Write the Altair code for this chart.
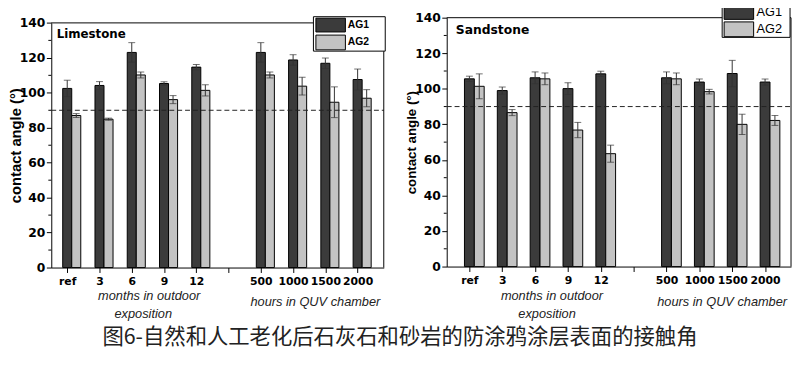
import altair as alt
import pandas as pd

# ---- data ----
categories = ["ref", "3", "6", "9", "12", "", "500", "1000", "1500", "2000"]
bar_labels = ["ref", "3", "6", "9", "12", "500", "1000", "1500", "2000"]
series = ["AG1", "AG2"]

lime_ag1 = [102.5, 104.2, 123.1, 105.3, 114.7, 123.1, 118.8, 116.9, 107.6]
lime_ag1_err = [4.7, 2.2, 5.6, 1.0, 1.5, 5.6, 3.0, 3.0, 6.0]
lime_ag2 = [87.0, 84.9, 110.2, 96.1, 101.4, 110.2, 103.8, 94.6, 96.9]
lime_ag2_err = [1.1, 0.6, 1.7, 2.3, 3.2, 1.7, 5.1, 8.8, 4.9]

sand_ag1 = [105.6, 99.0, 106.2, 100.1, 108.4, 106.2, 103.8, 108.6, 103.8]
sand_ag1_err = [1.5, 2.0, 3.3, 3.3, 1.5, 3.3, 1.7, 7.4, 1.7]
sand_ag2 = [101.4, 86.6, 105.6, 76.8, 63.5, 105.6, 98.4, 80.0, 82.2]
sand_ag2_err = [7.0, 1.7, 3.3, 4.3, 4.8, 3.3, 1.3, 5.7, 2.8]

y_ticks = [0, 20, 40, 60, 80, 100, 120, 140]
y_minor = [10, 30, 50, 70, 90, 110, 130]
threshold = 90
caption = "图6-自然和人工老化后石灰石和砂岩的防涂鸦涂层表面的接触角"

COLORS = ["#3b3b3b", "#c3c3c3"]
LBL_FONT = "DejaVu Sans"


def one():
    return pd.DataFrame({"a": [0]})


def panel(title, ag1, e1, ag2, e2, W, H, xdom, bw, yrange, ytitle_size,
          legend, leg_bold, leg_size, title_size, notes, extra_top):
    rows = []
    for k, lab in enumerate(bar_labels):
        i = categories.index(lab)
        for s, vals, errs, off in (("AG1", ag1, e1, 0.0), ("AG2", ag2, e2, bw)):
            rows.append({
                "series": s,
                "x0": i + off - bw / 2,
                "x1": i + off + bw / 2,
                "xc": i + off,
                "v": vals[k],
                "lo": vals[k] - errs[k],
                "hi": vals[k] + errs[k],
                "base": 0,
            })
    df = pd.DataFrame(rows)

    xs = alt.Scale(domain=xdom, nice=False, zero=False)
    if yrange is None:
        ys = alt.Scale(domain=[0, 140], nice=False, zero=True)
    else:
        ys = alt.Scale(domain=[0, 140], nice=False, zero=True, range=yrange)

    label_arr = "[" + ",".join("'%s'" % c for c in categories) + "]"
    xaxis = alt.Axis(values=list(range(len(categories))),
                     labelExpr=label_arr + "[datum.value]", title=None,
                     labelOverlap=False, labelFlush=False, grid=False,
                     tickSize=5, tickColor="black", domainColor="black",
                     labelFont=LBL_FONT, labelFontWeight="bold", labelColor="black",
                     labelFontSize=11, labelPadding=3)
    yaxis = alt.Axis(values=y_ticks, title="contact angle (°)", labelOverlap=False,
                     grid=False, tickSize=5, tickColor="black", domainColor="black",
                     labelFont=LBL_FONT, labelFontWeight="bold", labelColor="black",
                     labelFontSize=12.5, labelPadding=1.5,
                     titleFont="Liberation Sans", titleFontWeight="bold",
                     titleColor="black", titleFontSize=ytitle_size, titlePadding=-4)

    def X(f):
        return alt.X(f, type="quantitative", scale=xs, axis=xaxis)

    def Y(f):
        return alt.Y(f, type="quantitative", scale=ys, axis=yaxis)

    color = alt.Color("series:N", scale=alt.Scale(domain=series, range=COLORS), legend=None)

    bars = alt.Chart(df).mark_rect(stroke="black", strokeWidth=1).encode(
        x=X("x0"), x2="x1:Q", y=Y("v"), y2="base:Q", color=color)
    err = alt.Chart(df).mark_rule(color="#333", strokeWidth=1).encode(
        x=X("xc"), y=Y("lo"), y2="hi:Q")
    cap_hi = alt.Chart(df).mark_tick(color="#333", thickness=1, size=7, orient="horizontal").encode(
        x=X("xc"), y=Y("hi"))
    cap_lo = alt.Chart(df).mark_tick(color="#333", thickness=1, size=7, orient="horizontal").encode(
        x=X("xc"), y=Y("lo"))

    minor = alt.Chart(pd.DataFrame({"m": y_minor})).mark_rule(color="black").encode(
        y=Y("m"), x=alt.value(-3), x2=alt.value(0))

    lines = alt.Chart(pd.DataFrame({"t": [threshold], "top": [140], "zero": [0]}))
    dash = lines.mark_rule(color="#222", strokeDash=[5, 3], strokeWidth=1).encode(
        y=Y("t"), x=alt.value(0), x2=alt.value(W))
    top = lines.mark_rule(color="black", strokeWidth=1).encode(
        y=Y("top"), x=alt.value(0), x2=alt.value(W))
    right = lines.mark_rule(color="black", strokeWidth=1).encode(
        x=alt.value(W), y=Y("zero"), y2="top:Q")
    spacer = alt.Chart(one()).mark_rule(strokeOpacity=0).encode(
        x=alt.value(0), x2=alt.value(1), y=alt.value(extra_top))

    bx0, bx1, by0, by1, sx0, sx1, s1y, s2y, tx = legend
    box = alt.Chart(one()).mark_rect(fill="white", stroke="black", strokeWidth=1).encode(
        x=alt.value(bx0), x2=alt.value(bx1), y=alt.value(by0), y2=alt.value(by1))
    leg = [box]
    for s, c, (ya, yb) in zip(series, COLORS, (s1y, s2y)):
        leg.append(alt.Chart(one()).mark_rect(fill=c, stroke="black", strokeWidth=1).encode(
            x=alt.value(sx0), x2=alt.value(sx1), y=alt.value(ya), y2=alt.value(yb)))
        leg.append(alt.Chart(one()).mark_text(
            text=s, align="left", baseline="middle", font="Liberation Sans",
            fontWeight="bold" if leg_bold else "normal", fontSize=leg_size, color="black").encode(
            x=alt.value(tx), y=alt.value((ya + yb) / 2)))

    ttl = alt.Chart(one()).mark_text(
        text=title[0], align="left", baseline="middle", font=LBL_FONT, fontWeight="bold",
        fontSize=title_size, color="black").encode(x=alt.value(title[1]), y=alt.value(title[2]))

    note_layers = []
    for txt, nx, ny in notes:
        note_layers.append(alt.Chart(one()).mark_text(
            text=txt, align="center", baseline="middle", font="Liberation Sans",
            fontStyle="italic", fontSize=13, color="#222").encode(
            x=alt.value(nx), y=alt.value(ny)))

    return alt.layer(bars, spacer, dash, err, cap_hi, cap_lo, minor, top, right,
                     *leg, ttl, *note_layers).properties(width=W, height=H)


left = panel(("Limestone", 5.5, 17), lime_ag1, lime_ag1_err, lime_ag2, lime_ag2_err,
             W=338, H=254, xdom=[-0.494, 9.81], bw=0.28, yrange=[254, 5.3], ytitle_size=15,
             legend=(266.5, 339.5, -1, 34, 269, 299, (0.5, 14.5), (17.7, 32.7), 301.5),
             leg_bold=True, leg_size=10.5, title_size=12,
             notes=[("months in outdoor", 99.5, 283), ("exposition", 93.5, 301.5),
                    ("hours in QUV chamber", 268.5, 289)],
             extra_top=-14)

right = panel(("Sandstone", 9.3, 13), sand_ag1, sand_ag1_err, sand_ag2, sand_ag2_err,
              W=350, H=253, xdom=[-0.69, 9.79], bw=0.30, yrange=None, ytitle_size=13.5,
              legend=(280, 349, -14, 20, 282, 312, (-12.3, 1.7), (4.3, 19.3), 315),
              leg_bold=False, leg_size=13, title_size=12.5,
              notes=[("months in outdoor", 107, 283), ("exposition", 102, 301.5),
                     ("hours in QUV chamber", 280, 289)],
              extra_top=-14)

chart = alt.hconcat(left, right, spacing=19).properties(
    title=alt.TitleParams(text=caption, orient="bottom", anchor="middle",
                          font="Noto Sans CJK SC", fontSize=21.7, fontWeight="normal",
                          color="#222", offset=6),
    padding={"left": 0, "top": -8, "right": 0, "bottom": 0},
    background="white",
).configure_view(
    strokeWidth=0
)

chart.save("out.html", embed_options={"renderer": "svg", "actions": False})
